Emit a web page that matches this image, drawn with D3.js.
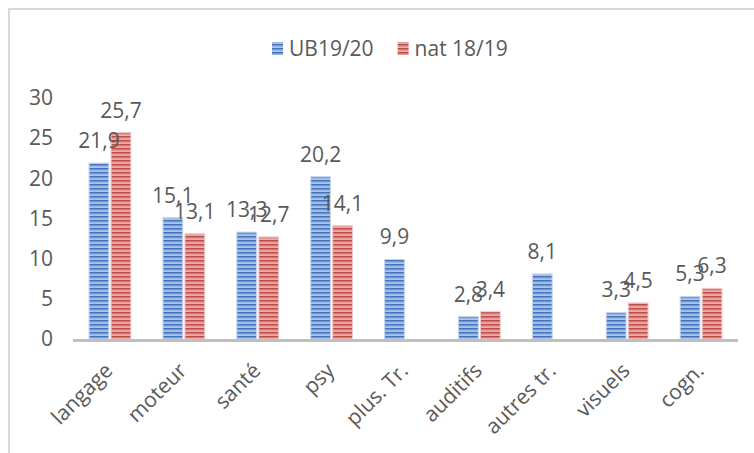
<!DOCTYPE html>
<html><head><meta charset="utf-8">
<script src="https://cdn.jsdelivr.net/npm/d3@7"></script>
<style>
body{margin:0;background:#fff;}
text{font-family:"Open Sans",sans-serif;fill:#595959;}
</style></head>
<body>
<svg id="c" width="754" height="453"></svg>
<script>
const categories = ["langage","moteur","santé","psy","plus. Tr.","auditifs","autres tr.","visuels","cogn."];
const seriesNames = ["UB19/20","nat 18/19"];
const ub = [21.9,15.1,13.3,20.2,9.9,2.8,8.1,3.3,5.3];
const nat = [25.7,13.1,12.7,14.1,null,3.4,null,4.5,6.3];
const yTicks = [0,5,10,15,20,25,30];

const svg = d3.select("#c");
const W = 754, H = 453;
const FS = 21;
svg.append("rect").attr("width",W).attr("height",H).attr("fill","#fff");
// frame
svg.append("path").attr("d","M9,460 V9 H760").attr("fill","none").attr("stroke","#d9d9d9").attr("stroke-width",2);

const defs = svg.append("defs");
function pat(id, dark, mid, light){
  const p = defs.append("pattern").attr("id",id).attr("patternUnits","userSpaceOnUse").attr("width",4).attr("height",4);
  p.append("rect").attr("width",4).attr("height",4).attr("fill",light);
  p.append("rect").attr("y",0).attr("width",4).attr("height",1.5).attr("fill",dark);
  p.append("rect").attr("y",1.5).attr("width",4).attr("height",0.8).attr("fill",mid);
}
pat("pb","#4472bc","#6f95d0","#abc4e8");
pat("pr","#be4b48","#d0716f","#e9aeac");
const fills = ["url(#pb)","url(#pr)"];
const strokes = ["#c6d6ee","#f0caca"];

const x = d3.scaleBand().domain(categories).range([73,738]).paddingInner(0).paddingOuter(0);
const y = d3.scaleLinear().domain([0,30]).range([339,98]);
const xs = d3.scaleBand().domain([0,1]).range([0,x.bandwidth()]).paddingInner(0.1).paddingOuter(0.73);

// y axis labels
const ya = svg.append("g").attr("transform","translate(53,0)")
  .call(d3.axisLeft(y).tickValues(yTicks).tickSize(0).tickPadding(0).tickFormat(d3.format("d")));
ya.select(".domain").remove();
ya.selectAll("text").attr("font-size",FS).attr("fill","#595959").style("font-family",'"Open Sans",sans-serif');

const series = [ub, nat];
series.forEach((vals,si)=>{
  const g = svg.append("g");
  categories.forEach((c,i)=>{
    const v = vals[i];
    if(v==null) return;
    const bx = x(c)+xs(si);
    g.append("rect").attr("x",bx).attr("y",y(v)).attr("width",xs.bandwidth()).attr("height",y(0)-y(v))
      .attr("fill",fills[si]).attr("stroke",strokes[si]).attr("stroke-width",1);
  });
});
// baseline
svg.append("line").attr("x1",73).attr("x2",738).attr("y1",y(0)+1.5).attr("y2",y(0)+1.5).attr("stroke","#bfbfbf").attr("stroke-width",3);

// labels
series.forEach((vals,si)=>{
  categories.forEach((c,i)=>{
    const v = vals[i];
    if(v==null) return;
    svg.append("text").attr("x",x(c)+xs(si)+xs.bandwidth()/2).attr("y",y(v)-15)
      .attr("text-anchor","middle").attr("font-size",FS).attr("fill","#404040")
      .text(String(v).replace(".",","));
  });
});

// x labels
categories.forEach(c=>{
  const cx = x(c)+x.bandwidth()/2;
  svg.append("text").attr("transform",`translate(${cx+4},${372}) rotate(-45)`)
    .attr("text-anchor","end").attr("font-size",FS).attr("fill","#595959").text(c);
});

// legend
const lg = svg.append("g");
let lx = 272;
seriesNames.forEach((n,i)=>{
  lg.append("rect").attr("x",lx).attr("y",42).attr("width",11).attr("height",13).attr("fill",fills[i]);
  const t = lg.append("text").attr("x",lx+17).attr("y",56).attr("font-size",FS).attr("fill","#595959").text(n);
  lx += 17 + t.node().getComputedTextLength() + 24;
});
</script>
</body></html>
